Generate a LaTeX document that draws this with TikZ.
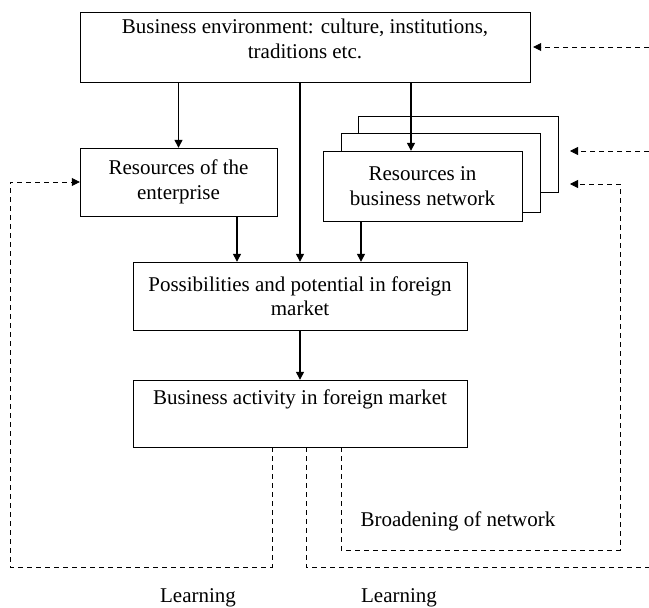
\documentclass[tikz,border=0pt]{standalone}
\usepackage{fontspec}
\setmainfont{Liberation Serif}
\usetikzlibrary{arrows.meta}
\begin{document}
\begin{tikzpicture}[x=1pt, y=-1pt,
  box/.style={draw, rectangle, inner sep=0pt, align=center, fill=white,
    font=\fontsize{21}{24.5}\selectfont},
  arr/.style={line width=1.3pt, -{Triangle[length=8pt,width=8pt]}},
  fb/.style={dash pattern=on 5pt off 4pt, line width=0.8pt},
  fbarr/.style={fb, -{Triangle[length=8pt,width=8pt]}},
  lbl/.style={font=\fontsize{21}{24.5}\selectfont}]
  \useasboundingbox (0,0) rectangle (649,608);

  \node[box, minimum width=450pt, minimum height=70pt] (env) at (305,47)
    {Business environment: culture, institutions,\\ traditions etc.\\[-8pt]};
  \node[box, minimum width=197pt, minimum height=68pt] (ent) at (178.5,182)
    {Resources of the\\ enterprise};
  \node[box, minimum width=200pt, minimum height=76pt] (net3) at (458,154) {};
  \node[box, minimum width=199pt, minimum height=79pt] (net2) at (440.5,172.5) {};
  \node[box, minimum width=199pt, minimum height=70pt] (net) at (422.5,186)
    {Resources in\\ business network};
  \node[box, minimum width=334pt, minimum height=68pt] (poss) at (300,296)
    {Possibilities and potential in foreign\\ market};
  \node[box, minimum width=334pt, minimum height=67pt] (act) at (300,413.5)
    {Business activity in foreign market\\ \strut};

  % solid links
  \draw[arr] (env.south -| ent.north) -- (ent.north);
  \draw[arr] ([xshift=-11.5pt]net.north |- env.south) -- ([xshift=-11.5pt]net.north);
  \draw[arr] (poss.north |- env.south) -- (poss.north);
  \draw[arr] ([xshift=58.5pt]ent.south) -- ([xshift=58.5pt]ent.south |- poss.north);
  \draw[arr] ([xshift=-61.5pt]net.south) -- ([xshift=-61.5pt]net.south |- poss.north);
  \draw[arr] (poss) -- (act);

  % feedback
  \coordinate (in1) at (649,47);
  \coordinate (in2) at (649,151);
  \coordinate (tip2) at (570,151);
  \coordinate (tip3) at (570,184);
  \coordinate (out1) at (649,567);
  \draw[fbarr] (in1) -- ([xshift=3pt]env.east);
  \draw[fbarr] (in2) -- (tip2);
  \draw[fbarr] ([xshift=-28pt]act.south) |- (10,567) |- (ent.west);
  \draw[fb] ([xshift=6pt]act.south) |- (out1);
  \draw[fbarr] ([xshift=41pt]act.south) |- (620,550) |- (tip3);

  \node[lbl, anchor=west] (broad) at (357,521) {Broadening of network};
  \node[lbl] (learn1) at (198,598) {Learning};
  \node[lbl] (learn2) at (399,598) {Learning};
\end{tikzpicture}
\end{document}
